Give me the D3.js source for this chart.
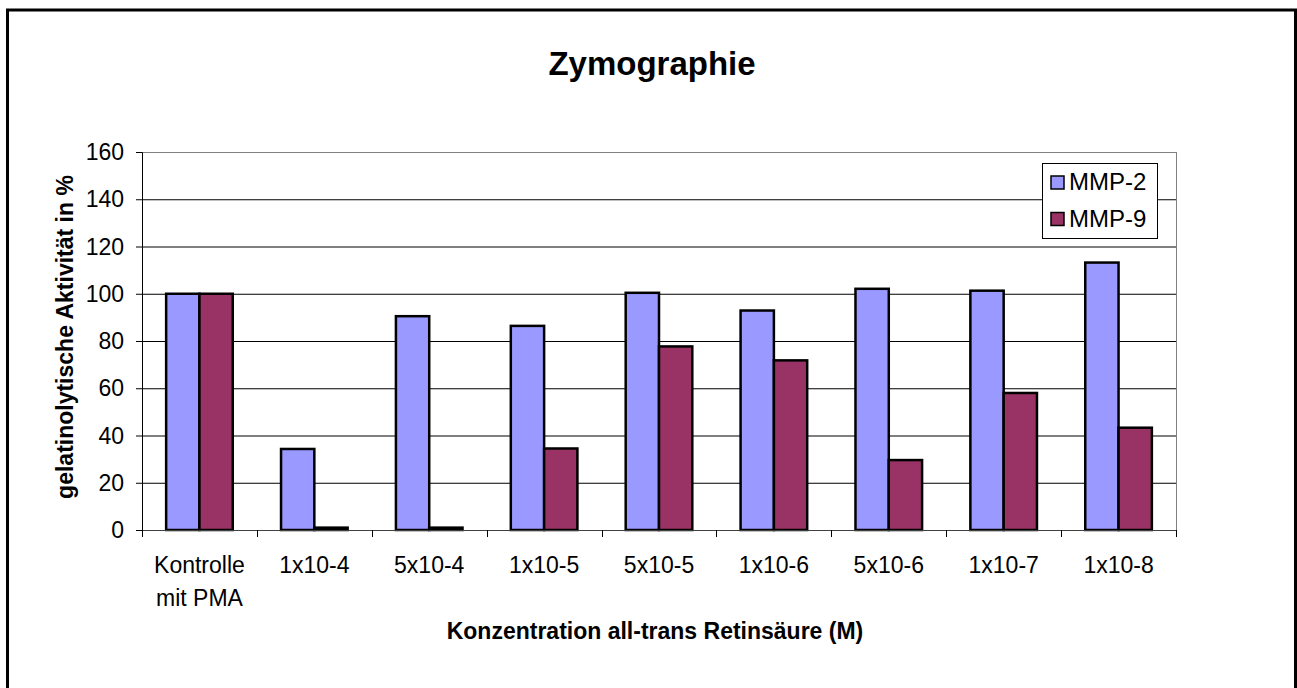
<!DOCTYPE html>
<html>
<head>
<meta charset="utf-8">
<script src="https://cdn.jsdelivr.net/npm/d3@7"></script>
<style>
  body { margin: 0; background: #fff; }
  svg { display: block; font-family: "Liberation Sans", Arial, sans-serif; }
</style>
</head>
<body>
<svg id="chart" width="1297" height="688"></svg>
<script>
const categories = ["Kontrolle\nmit PMA", "1x10-4", "5x10-4", "1x10-5", "5x10-5", "1x10-6", "5x10-6", "1x10-7", "1x10-8"];
const series = ["MMP-2", "MMP-9"];
const mmp2 = [100, 34.3, 90.5, 86.4, 100.4, 92.9, 102.1, 101.3, 113.2];
const mmp9 = [100, 1, 1, 34.5, 77.7, 71.8, 29.6, 58, 43.3];
const yTicks = [0, 20, 40, 60, 80, 100, 120, 140, 160];
const colors = { "MMP-2": "#9999ff", "MMP-9": "#993366" };

const svg = d3.select("#chart");
const width = 1297, height = 688;
const margin = { top: 152, right: 121, bottom: 158, left: 142 };
const innerWidth = width - margin.left - margin.right;
const innerHeight = height - margin.top - margin.bottom;

// outer chart frame, its bottom edge lies below the picture
svg.append("path")
    .attr("d", `M7.5,${height} V10 H1295.5 V${height}`)
    .attr("fill", "none")
    .attr("stroke", "#000")
    .attr("stroke-width", 3);

const rows = categories.map((c, i) => ({ cat: c, "MMP-2": mmp2[i], "MMP-9": mmp9[i] }));

const x = d3.scaleBand().domain(categories).range([margin.left, margin.left + innerWidth]);
const x1 = d3.scaleBand().domain(series).range([0, x.bandwidth()]).paddingOuter(0.725);
const y = d3.scaleLinear().domain([0, 160]).range([margin.top + innerHeight, margin.top]);

// gridlines
const grid = svg.append("g")
    .attr("transform", `translate(${margin.left},0)`)
    .call(d3.axisLeft(y).tickValues(yTicks).tickSize(-innerWidth).tickFormat(""));
grid.select(".domain").remove();
grid.selectAll("line")
    .attr("stroke", d => d === 160 ? "#808080" : "#000")
    .attr("stroke-width", 1);

// right border of plot area
svg.append("line")
    .attr("x1", margin.left + innerWidth + 0.5).attr("x2", margin.left + innerWidth + 0.5)
    .attr("y1", y(160)).attr("y2", y(0))
    .attr("stroke", "#808080");

// bars
svg.append("g").selectAll("g")
    .data(rows)
    .join("g")
    .attr("transform", d => `translate(${x(d.cat)},0)`)
    .selectAll("rect")
    .data(d => series.map(s => ({ s, v: d[s] })))
    .join("rect")
    .attr("x", d => x1(d.s))
    .attr("y", d => y(d.v))
    .attr("width", x1.bandwidth())
    .attr("height", d => y(0) - y(d.v))
    .attr("fill", d => colors[d.s])
    .attr("stroke", "#000")
    .attr("stroke-width", 2.5);

// y axis line and ticks
const yAxisG = svg.append("g")
    .attr("transform", `translate(${margin.left},0)`)
    .call(d3.axisLeft(y).tickValues(yTicks).tickSize(6).tickFormat(""));
yAxisG.selectAll("path, line").attr("stroke", "#000");

// y tick labels
svg.append("g").selectAll("text")
    .data(yTicks)
    .join("text")
    .attr("x", margin.left - 18)
    .attr("y", d => y(d))
    .attr("dy", "0.35em")
    .attr("text-anchor", "end")
    .attr("font-size", 23)
    .text(d => d);

// x axis line, ticks on the band boundaries
const xAxisG = svg.append("g")
    .attr("transform", `translate(0,${y(0)})`)
    .call(d3.axisBottom(x).tickSize(0).tickFormat(""));
xAxisG.select(".domain").attr("stroke", "#404040");
xAxisG.selectAll(".bound")
    .data(categories.map(c => x(c)).concat([margin.left + innerWidth]))
    .join("line")
    .attr("class", "bound")
    .attr("x1", d => Math.round(d) + 0.5).attr("x2", d => Math.round(d) + 0.5)
    .attr("y1", 0).attr("y2", 7)
    .attr("stroke", "#000");

// category labels
svg.append("g").selectAll("text")
    .data(categories)
    .join("text")
    .attr("text-anchor", "middle")
    .attr("font-size", 23)
    .attr("transform", d => `translate(${x(d) + x.bandwidth() / 2},${y(0) + 43})`)
    .selectAll("tspan")
    .data(d => d.split("\n"))
    .join("tspan")
    .attr("x", 0)
    .attr("y", (d, i) => i * 33)
    .text(d => d);

// axis titles
svg.append("text")
    .attr("x", margin.left + innerWidth / 2 - 4)
    .attr("y", 639)
    .attr("text-anchor", "middle")
    .attr("font-size", 23)
    .attr("font-weight", "bold")
    .text("Konzentration all-trans Retinsäure (M)");

svg.append("text")
    .attr("transform", `translate(73,${margin.top + innerHeight / 2 - 4}) rotate(-90)`)
    .attr("text-anchor", "middle")
    .attr("font-size", 23)
    .attr("font-weight", "bold")
    .text("gelatinolytische Aktivität in %");

// title
svg.append("text")
    .attr("x", 652)
    .attr("y", 75)
    .attr("text-anchor", "middle")
    .attr("font-size", 33)
    .attr("font-weight", "bold")
    .text("Zymographie");

// legend
const legend = svg.append("g").attr("transform", "translate(1042,163)");
legend.append("rect")
    .attr("x", 0.5).attr("y", 0.5)
    .attr("width", 115).attr("height", 75)
    .attr("fill", "#fff")
    .attr("stroke", "#000");
const items = legend.selectAll(".item")
    .data(series)
    .join("g")
    .attr("class", "item")
    .attr("transform", (d, i) => `translate(9,${13 + i * 36.5})`);
items.append("rect")
    .attr("width", 13).attr("height", 13)
    .attr("fill", d => colors[d])
    .attr("stroke", "#000")
    .attr("stroke-width", 1.5);
items.append("text")
    .attr("x", 18)
    .attr("y", 14)
    .attr("font-size", 24)
    .text(d => d);
</script>
</body>
</html>
